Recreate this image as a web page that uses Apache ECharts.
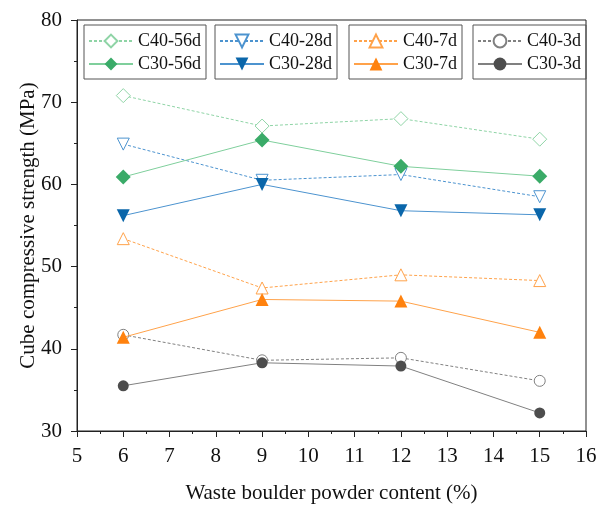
<!DOCTYPE html>
<html>
<head>
<meta charset="utf-8">
<script src="https://cdn.jsdelivr.net/npm/echarts@6/dist/echarts.min.js"></script>
<style>
  html, body { margin: 0; padding: 0; background: #fff; }
  #chart { width: 598px; height: 505px; }
</style>
</head>
<body>
<div id="chart"></div>
<script>
// waste boulder powder content (%)
const content = [6, 9, 12, 15];

const c40_56d = [70.8, 67.1, 68.0, 65.5];
const c30_56d = [60.9, 65.4, 62.2, 61.0];
const c40_28d = [64.9, 60.5, 61.2, 58.5];
const c30_28d = [56.2, 60.0, 56.8, 56.3];
const c40_7d  = [53.4, 47.4, 49.0, 48.3];
const c30_7d  = [41.4, 46.0, 45.8, 42.0];
const c40_3d  = [41.7, 38.6, 38.9, 36.1];
const c30_3d  = [35.5, 38.3, 37.9, 32.2];

const FONT = '"Liberation Serif", "Times New Roman", serif';

function pairs(vals) {
  return content.map((x, i) => [x, vals[i]]);
}

// open markers for C40, filled for C30
function mk(name, vals, opt) {
  return {
    name: name,
    type: 'line',
    data: pairs(vals),
    symbol: opt.symbol,
    symbolSize: opt.size,
    symbolRotate: opt.rotate || 0,
    lineStyle: { width: 1, color: opt.line, type: opt.dashed ? [3, 2] : 'solid' },
    itemStyle: opt.open
      ? { color: '#fff', borderColor: opt.color, borderWidth: 1 }
      : { color: opt.color, borderWidth: 0 },
    z: opt.open ? 2 : 3,
    animation: false
  };
}

const series = [
  mk('C40-56d', c40_56d, { symbol: 'diamond', size: 14, open: true, dashed: true, color: '#8fd4a6', line: '#8fd4a6' }),
  mk('C30-56d', c30_56d, { symbol: 'diamond', size: 15, color: '#3aab68', line: '#7fcf9c' }),
  mk('C40-28d', c40_28d, { symbol: 'triangle', rotate: 180, size: 12, open: true, dashed: true, color: '#4c93cf', line: '#4c93cf' }),
  mk('C30-28d', c30_28d, { symbol: 'triangle', rotate: 180, size: 13, color: '#0a66aa', line: '#4c93cf' }),
  mk('C40-7d', c40_7d, { symbol: 'triangle', size: 12, open: true, dashed: true, color: '#ffa24a', line: '#ffa24a' }),
  mk('C30-7d', c30_7d, { symbol: 'triangle', size: 13, color: '#ff820e', line: '#ffa24a' }),
  mk('C40-3d', c40_3d, { symbol: 'circle', size: 11, open: true, dashed: true, color: '#808080', line: '#808080' }),
  mk('C30-3d', c30_3d, { symbol: 'circle', size: 11, color: '#4d4d4d', line: '#808080' })
];

function box(names, left) {
  return {
    orient: 'vertical',
    left: left,
    top: 25,
    data: names,
    borderColor: '#555',
    borderWidth: 1,
    padding: [7, 5, 6, 4],
    itemGap: 5,
    itemWidth: 44,
    itemHeight: 16,
    textStyle: { fontFamily: FONT, fontSize: 18, color: '#111', padding: [0, 0, 0, 0] }
  };
}

const chart = echarts.init(document.getElementById('chart'));
chart.setOption({
  animation: false,
  grid: {
    left: 77, right: 12, top: 20, bottom: 74,
    outerBoundsMode: 'none',
    show: true, borderColor: '#222', borderWidth: 1
  },
  legend: [
    box(['C40-56d', 'C30-56d'], 84),
    box(['C40-28d', 'C30-28d'], 215),
    box(['C40-7d', 'C30-7d'], 349),
    box(['C40-3d', 'C30-3d'], 473)
  ],
  xAxis: {
    type: 'value',
    min: 5, max: 16, interval: 1,
    name: 'Waste boulder powder content (%)',
    nameLocation: 'middle',
    nameGap: 52,
    nameMoveOverlap: false,
    nameTextStyle: { fontFamily: FONT, fontSize: 21, color: '#111' },
    axisLine: { lineStyle: { color: '#222', width: 1 } },
    axisTick: { length: 6, lineStyle: { color: '#222' } },
    minorTick: { show: true, splitNumber: 2, length: 3, lineStyle: { color: '#222' } },
    axisLabel: { fontFamily: FONT, fontSize: 21, color: '#111', margin: 15 },
    splitLine: { show: false }
  },
  yAxis: {
    type: 'value',
    min: 30, max: 80, interval: 10,
    name: 'Cube compressive strength (MPa)',
    nameLocation: 'middle',
    nameGap: 38,
    nameMoveOverlap: false,
    nameTextStyle: { fontFamily: FONT, fontSize: 21, color: '#111' },
    axisLine: { show: true, lineStyle: { color: '#222', width: 1 } },
    axisTick: { show: true, length: 6, lineStyle: { color: '#222' } },
    minorTick: { show: true, splitNumber: 2, length: 3, lineStyle: { color: '#222' } },
    axisLabel: { fontFamily: FONT, fontSize: 21, color: '#111', margin: 15 },
    splitLine: { show: false }
  },
  series: series
});
</script>
</body>
</html>
